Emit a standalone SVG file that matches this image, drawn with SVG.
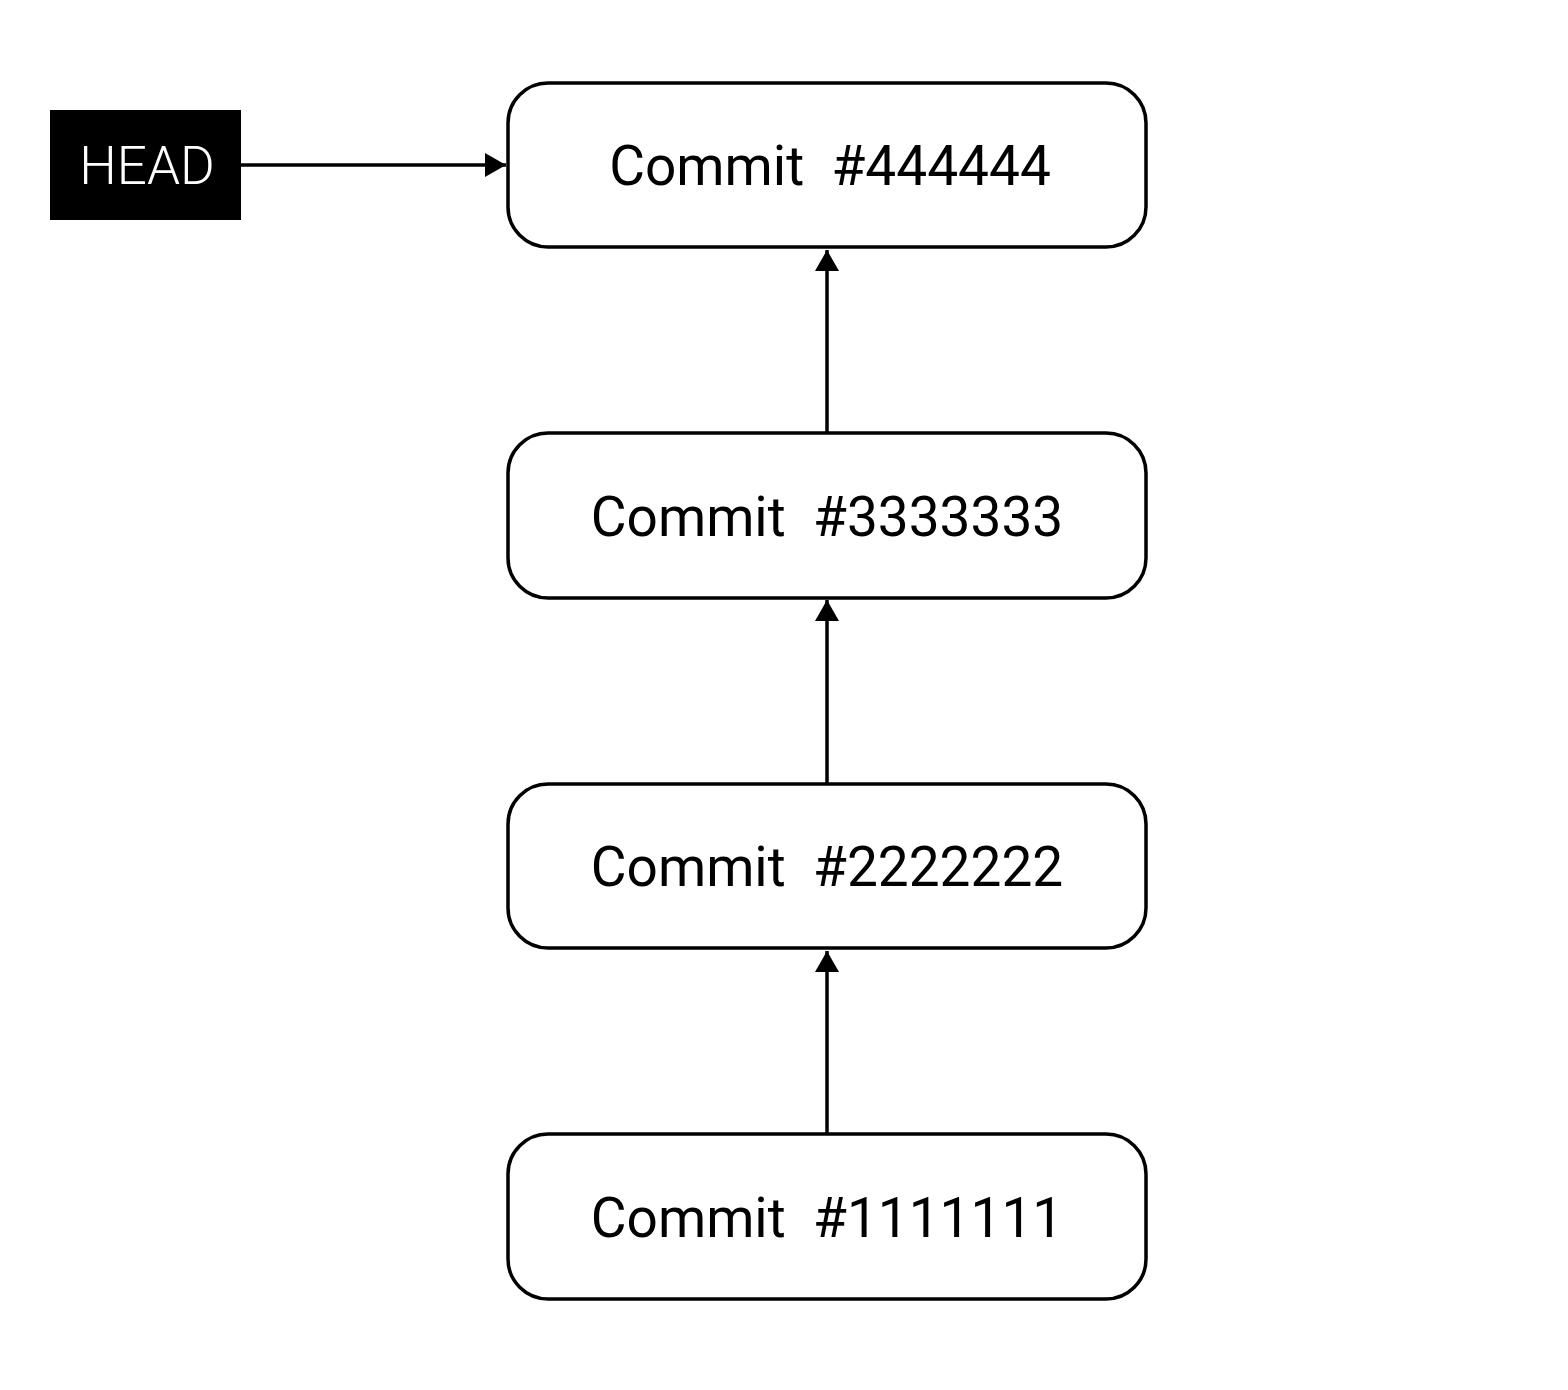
<svg xmlns="http://www.w3.org/2000/svg" width="1568" height="1390" viewBox="0 0 1568 1390">
<defs>
<style>
.box{fill:#fff;stroke:#000;stroke-width:3.5}
.lbl{font-family:Roboto,"Liberation Sans",sans-serif;font-size:55px;fill:#000;text-anchor:middle}
.head{font-family:Roboto,"Liberation Sans",sans-serif;font-size:53px;font-weight:300;fill:#fff;text-anchor:middle}
.edge{stroke:#000;stroke-width:3.5;fill:none}
</style>
<marker id="arr" markerWidth="22" markerHeight="24" refX="21" refY="12" orient="auto" markerUnits="userSpaceOnUse">
<path d="M0,0 L21,12 L0,24 Z" fill="#000"/>
</marker>
</defs>
<rect width="1568" height="1390" fill="#fff"/>
<g id="connectors">
<line class="edge" x1="241" y1="165" x2="506" y2="165" marker-end="url(#arr)"/>
<line class="edge" x1="827" y1="433" x2="827" y2="250" marker-end="url(#arr)"/>
<line class="edge" x1="827" y1="784" x2="827" y2="600" marker-end="url(#arr)"/>
<line class="edge" x1="827" y1="1134" x2="827" y2="951" marker-end="url(#arr)"/>
</g>
<g id="head">
<rect x="50" y="110" width="191" height="110" fill="#000"/>
<text class="head" x="147" y="184">HEAD</text>
</g>
<g id="c4">
<rect class="box" x="508" y="83" width="638" height="164" rx="40"/>
<text class="lbl" x="830" y="185" xml:space="preserve">Commit  #444444</text>
</g>
<g id="c3">
<rect class="box" x="508" y="433" width="638" height="165" rx="40"/>
<text class="lbl" x="827" y="536" xml:space="preserve">Commit  #3333333</text>
</g>
<g id="c2">
<rect class="box" x="508" y="784" width="638" height="164" rx="40"/>
<text class="lbl" x="827" y="886" xml:space="preserve">Commit  #2222222</text>
</g>
<g id="c1">
<rect class="box" x="508" y="1134" width="638" height="165" rx="40"/>
<text class="lbl" x="827" y="1237" xml:space="preserve">Commit  #1111111</text>
</g>
</svg>
